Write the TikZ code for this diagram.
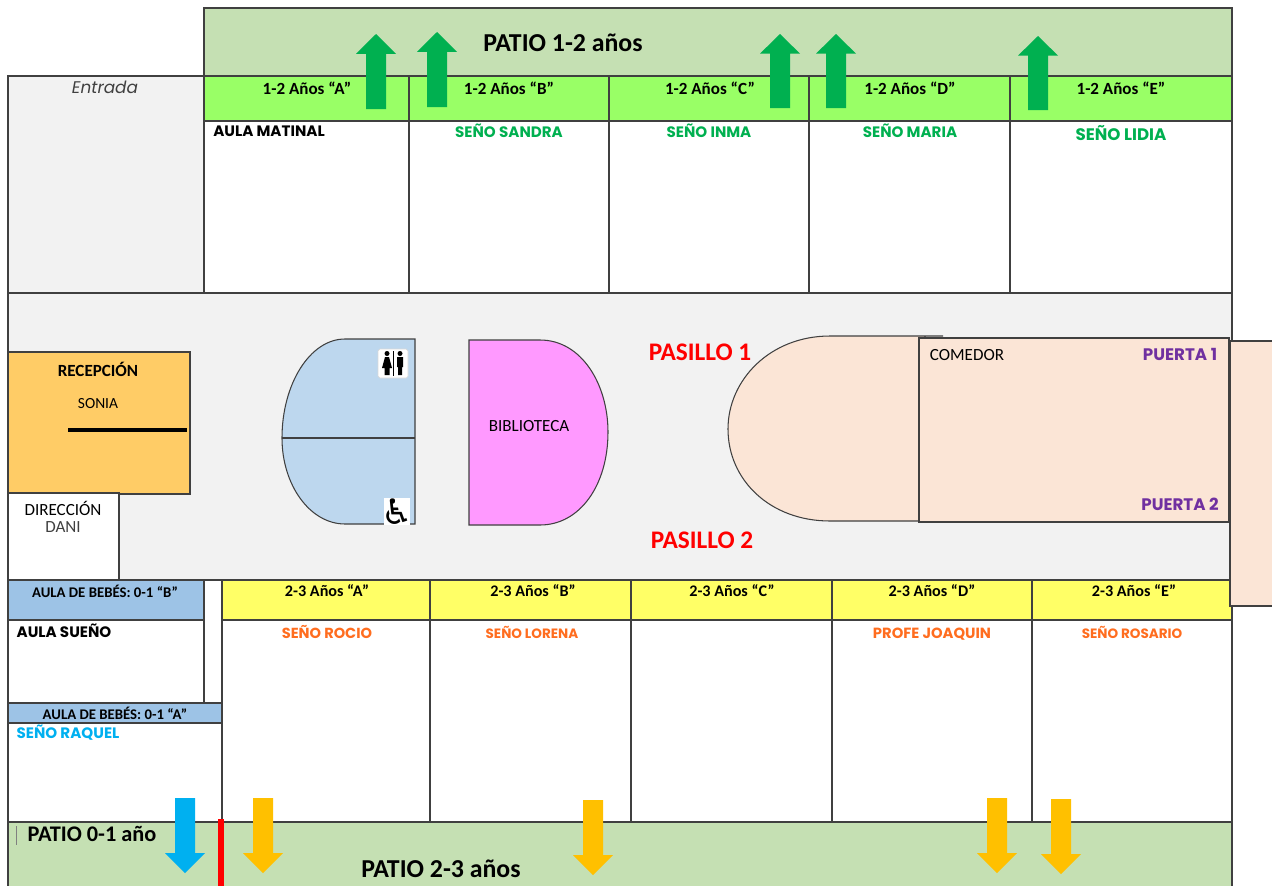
\documentclass[tikz,border=0pt]{standalone}
\usepackage{xcolor}
\usepackage{fontspec}
\setmainfont{Carlito}
\newfontfamily\gothicfont{Poppins}
\usetikzlibrary{positioning}
\definecolor{patiocolor}{HTML}{C5E0B3}
\definecolor{limecolor}{HTML}{99FF66}
\definecolor{corridorcolor}{HTML}{F2F2F2}
\definecolor{yellowcolor}{HTML}{FFFF66}
\definecolor{babycolor}{HTML}{9DC3E6}
\definecolor{receptioncolor}{HTML}{FFCC66}
\definecolor{toiletcolor}{HTML}{BDD7EE}
\definecolor{librarycolor}{HTML}{FF99FF}
\definecolor{diningcolor}{HTML}{FBE5D6}
\definecolor{arrowgreen}{HTML}{00B050}
\definecolor{arrowblue}{HTML}{00B0F0}
\definecolor{arrowyellow}{HTML}{FFC000}
\definecolor{teacherorange}{HTML}{FF6D1F}
\definecolor{doorpurple}{HTML}{7030A0}
\definecolor{wallcolor}{HTML}{404040}
\tikzset{
  wall/.style={draw=wallcolor, line width=0.6pt},
  header/.style={font=\fontsize{9.7}{11}\selectfont\bfseries, inner sep=0pt},
  lowheader/.style={font=\fontsize{9.2}{11}\selectfont\bfseries, inner sep=0pt},
  babyheader/.style={font=\fontsize{8.4}{10}\selectfont\bfseries, inner sep=0pt},
  teacher/.style={font=\gothicfont\fontsize{8.6}{10}\selectfont\bfseries, inner sep=0pt},
  smallteacher/.style={font=\gothicfont\fontsize{7.7}{9}\selectfont\bfseries, inner sep=0pt},
  patio/.style={font=\fontsize{14.7}{17}\selectfont\bfseries, inner sep=0pt},
  corridor/.style={font=\fontsize{14.4}{17}\selectfont\bfseries, text=red, inner sep=0pt},
  door/.style={font=\gothicfont\fontsize{9.5}{11}\selectfont\bfseries, text=doorpurple, inner sep=0pt},
  plain/.style={font=\fontsize{9.7}{11}\selectfont, inner sep=0pt},
}
% x, tip y, tail y
\newcommand{\patioarrow}[4]{
  \fill[#1] (#2-10,#4) -- (#2-10,{#3+0.265*(#4-#3)}) -- (#2-20,{#3+0.265*(#4-#3)}) -- (#2,#3)
    -- (#2+20,{#3+0.265*(#4-#3)}) -- (#2+10,{#3+0.265*(#4-#3)}) -- (#2+10,#4) -- cycle;
}
\begin{document}
\begin{tikzpicture}[x=0.02cm, y=-0.02cm]
  \useasboundingbox (0,0) rectangle (1272,886);

  % top row
  \draw[wall, fill=patiocolor] (204,8) rectangle (1232,76);
  \draw[wall, fill=corridorcolor] (8,76) rectangle (204,293);
  \draw[wall, fill=limecolor] (204,76) rectangle (1232,121);
  \draw[wall] (204,121) rectangle (1232,293);
  \foreach \x in {409,609,809,1010}
    \draw[wall] (\x,76) -- (\x,293);

  % corridor
  \draw[wall, fill=corridorcolor] (8,293) rectangle (1232,580);
  \draw[wall, fill=receptioncolor] (8,352) rectangle (190,494);
  \draw[line width=2.2pt] (68,430) -- (187,430);
  \draw[wall, fill=white] (8,493) rectangle (119,580);

  \draw[wall, fill=toiletcolor] (415,339) -- (345,339) .. controls (310,339) and (282,384) .. (282,438)
    .. controls (282,485) and (310,524) .. (345,524) -- (415,524) -- cycle;
  \draw[wall] (282,438) -- (415,438);
  \draw[wall, fill=librarycolor] (469,340) -- (540,340) .. controls (582,340) and (608,385) .. (608,432)
    .. controls (608,485) and (580,525) .. (540,525) -- (469,525) -- cycle;
  \draw[wall, fill=diningcolor] (943,336) -- (830,336) .. controls (770,336) and (728,380) .. (728,429)
    .. controls (728,480) and (770,521) .. (830,521) -- (925,521) -- (925,336);
  \draw[wall, fill=diningcolor] (919,338) rectangle (1229,522);

  % toilet signs
  \fill[white, draw=black!15, rounded corners=1pt] (378,349) rectangle (408,378);
  \fill[black] (387,353.5) circle (2.5) (400,353.5) circle (2.5);
  \fill[black] (385,357) -- (389,357) -- (392,368) -- (389.5,368) -- (389.5,375) -- (384.5,375) -- (384.5,368) -- (382,368) -- cycle;
  \fill[black] (397,357) rectangle (403,367) (398,367) rectangle (402,375);
  \draw[black, line width=0.5pt] (393.5,351) -- (393.5,376);
  \fill[white] (384,498) rectangle (410,525);
  \node[inner sep=0pt] (wheelchair) at (397.5,512) {\fontspec{DejaVu Sans}\fontsize{20}{21}\selectfont ♿};

  % bottom row
  \draw[wall, fill=babycolor] (8,580) rectangle (204,620);
  \draw[wall, fill=yellowcolor] (222,580) rectangle (1232,620);
  \draw[wall] (8,620) rectangle (204,703);
  \draw[wall] (222,620) rectangle (1232,822);
  \foreach \x in {430,631,832,1032}
    \draw[wall] (\x,580) -- (\x,822);
  \draw[wall, fill=babycolor] (8,703) rectangle (222,723);
  \draw[wall] (8,723) rectangle (222,822);
  \draw[wall, fill=patiocolor] (8,822) rectangle (1232,890);
  \draw[black!50, line width=0.5pt] (16,826) -- (16,845);
  \draw[red, line width=3.5pt] (221,819) -- (221,886);
  \draw[wall, fill=diningcolor] (1272,341) -- (1230,341) -- (1230,606) -- (1272,606);

  % labels
  \node[patio] (patioA) at (563,43) {PATIO 1-2 años};
  \node[font=\gothicfont\itshape\fontsize{9.6}{11}\selectfont, text=black!75, inner sep=0pt] (entrada) at (105,87) {Entrada};

  \node[header] (hA) at (307,88) {1-2 Años “A”};
  \node[header] (hB) at (509,88) {1-2 Años “B”};
  \node[header] (hC) at (710,88) {1-2 Años “C”};
  \node[header] (hD) at (910,88) {1-2 Años “D”};
  \node[header] (hE) at (1121,88) {1-2 Años “E”};

  \node[teacher] (matinal) at (269,131) {AULA MATINAL};
  \node[teacher, text=arrowgreen] (sandra) at (509,131) {SEÑO SANDRA};
  \node[teacher, text=arrowgreen] (inma) at (709,131) {SEÑO INMA};
  \node[teacher, text=arrowgreen] (maria) at (910,131) {SEÑO MARIA};
  \node[teacher, text=arrowgreen, font=\gothicfont\fontsize{9.5}{11}\selectfont\bfseries] (lidia) at (1121,133) {SEÑO LIDIA};

  \node[corridor] (pasilloA) at (700,352) {PASILLO 1};
  \node[corridor] (pasilloB) at (702,540) {PASILLO 2};

  \node[header] (recepcion) at (98,369) {RECEPCIÓN};
  \node[plain, font=\fontsize{8.8}{10}\selectfont] (sonia) at (98,404) {SONIA};
  \node[plain] (direccion) at (63,508) {DIRECCIÓN};
  \node[plain, text=black!75] (dani) at (63,527) {DANI};
  \node[plain] (biblioteca) at (529,426) {BIBLIOTECA};
  \node[plain] (comedor) at (967,355) {COMEDOR};
  \node[door] (puertaA) at (1180,354) {PUERTA 1};
  \node[door] (puertaB) at (1180,504) {PUERTA 2};

  \node[babyheader] (bebesB) at (105,591) {AULA DE BEBÉS: 0-1 “B”};
  \node[babyheader] (bebesA) at (115,713) {AULA DE BEBÉS: 0-1 “A”};
  \node[lowheader] (yA) at (327,591) {2-3 Años “A”};
  \node[lowheader] (yB) at (533,591) {2-3 Años “B”};
  \node[lowheader] (yC) at (732,591) {2-3 Años “C”};
  \node[lowheader] (yD) at (932,591) {2-3 Años “D”};
  \node[lowheader] (yE) at (1134,591) {2-3 Años “E”};

  \node[teacher] (sueno) at (64,631) {AULA SUEÑO};
  \node[teacher, text=arrowblue] (raquel) at (68,733) {SEÑO RAQUEL};
  \node[teacher, text=teacherorange, font=\gothicfont\fontsize{8.3}{10}\selectfont\bfseries] (rocio) at (327,632) {SEÑO ROCIO};
  \node[smallteacher, text=teacherorange] (lorena) at (532,632) {SEÑO LORENA};
  \node[teacher, text=teacherorange, font=\gothicfont\fontsize{8.4}{10}\selectfont\bfseries] (joaquin) at (932,634) {PROFE JOAQUIN};
  \node[smallteacher, text=teacherorange] (rosario) at (1132,632) {SEÑO ROSARIO};

  \node[patio, font=\fontsize{12.7}{15}\selectfont\bfseries] (patioB) at (92,834) {PATIO 0-1 año};
  \node[patio] (patioC) at (441,869) {PATIO 2-3 años};

  % arrows
  \patioarrow{arrowgreen}{376}{34}{109}
  \patioarrow{arrowgreen}{437}{32}{107}
  \patioarrow{arrowgreen}{780}{34}{108}
  \patioarrow{arrowgreen}{836}{34}{108}
  \patioarrow{arrowgreen}{1038}{36}{110}
  \patioarrow{arrowblue}{185}{873}{798}
  \patioarrow{arrowyellow}{263}{873}{798}
  \patioarrow{arrowyellow}{593}{875}{800}
  \patioarrow{arrowyellow}{997}{873}{798}
  \patioarrow{arrowyellow}{1061}{874}{799}
\end{tikzpicture}
\end{document}
